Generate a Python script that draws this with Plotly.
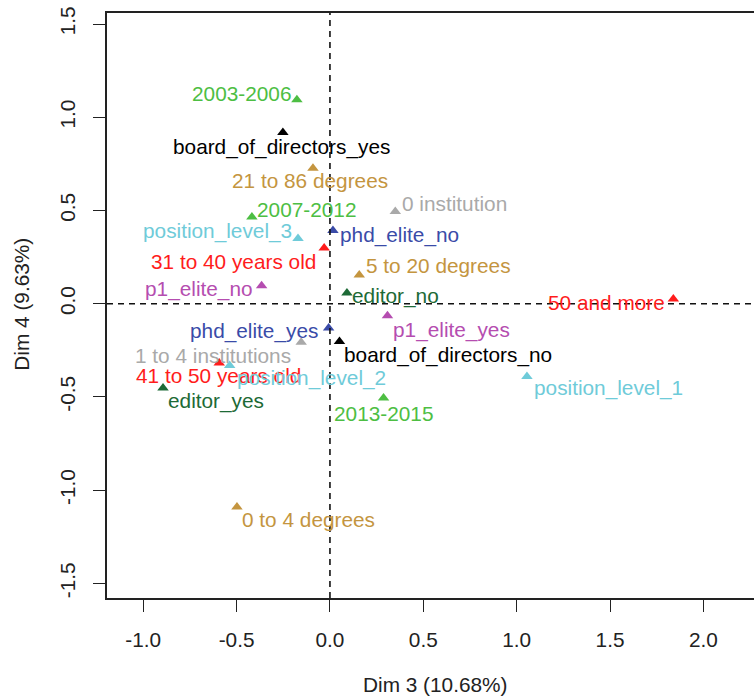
import plotly.graph_objects as go

# ---- data ----
categories = [
    "2003-2006", "board_of_directors_yes", "21 to 86 degrees", "2007-2012",
    "position_level_3", "phd_elite_no", "31 to 40 years old", "5 to 20 degrees",
    "p1_elite_no", "editor_no", "0 institution", "50 and more",
    "phd_elite_yes", "1 to 4 institutions", "board_of_directors_no",
    "41 to 50 years old", "position_level_2", "editor_yes", "2013-2015",
    "0 to 4 degrees", "p1_elite_yes", "position_level_1",
]
dim3 = [-0.177, -0.252, -0.091, -0.418, -0.171, 0.016, -0.031, 0.157,
        -0.366, 0.091, 0.350, 1.839, -0.007, -0.154, 0.051, -0.593,
        -0.537, -0.894, 0.287, -0.498, 0.308, 1.055]
dim4 = [1.094, 0.918, 0.727, 0.465, 0.350, 0.393, 0.299, 0.154,
        0.097, 0.057, 0.495, 0.025, -0.130, -0.207, -0.202, -0.318,
        -0.331, -0.452, -0.506, -1.090, -0.064, -0.390]
variables = [
    "year", "board", "degrees", "year", "position", "phd", "age", "degrees",
    "p1", "editor", "inst", "age", "phd", "inst", "board", "age",
    "position", "editor", "year", "degrees", "p1", "position",
]
x_ticks = [-1.0, -0.5, 0.0, 0.5, 1.0, 1.5, 2.0]
y_ticks = [-1.5, -1.0, -0.5, 0.0, 0.5, 1.0, 1.5]
x_title = "Dim 3 (10.68%)"
y_title = "Dim 4 (9.63%)"

# ---- styles ----
colors = {
    "year": "#4DBE43",
    "board": "#000000",
    "degrees": "#C4953F",
    "position": "#6FCBD9",
    "phd": "#3A4BA8",
    "age": "#FF1C1C",
    "p1": "#B54DB0",
    "editor": "#1D6A36",
    "inst": "#A9A9A9",
}
# label placement: (xanchor, dx px, dy px down)
placement = {
    "2003-2006": ("right", -4, -6.7),
    "board_of_directors_yes": ("center", -1.5, 14),
    "21 to 86 degrees": ("center", -2.7, 12.4),
    "2007-2012": ("left", 3.3, -8),
    "position_level_3": ("right", -4.4, -7),
    "phd_elite_no": ("left", 4.6, 4.3),
    "31 to 40 years old": ("right", -5.7, 13.4),
    "5 to 20 degrees": ("left", 4.3, -10),
    "p1_elite_no": ("right", -6.7, 3.3),
    "editor_no": ("left", 3.3, 2.7),
    "0 institution": ("left", 4.3, -7.7),
    "50 and more": ("right", -6.6, 3.4),
    "phd_elite_yes": ("right", -8.3, 3.4),
    "1 to 4 institutions": ("right", -7.7, 13.3),
    "board_of_directors_no": ("left", 2.4, 13.3),
    "41 to 50 years old": ("center", -1, 12.7),
    "position_level_2": ("left", 5, 12.6),
    "editor_yes": ("left", 3, 13.4),
    "2013-2015": ("center", 0, 15),
    "0 to 4 degrees": ("left", 3.3, 12.7),
    "p1_elite_yes": ("left", 3.4, 14.7),
    "position_level_1": ("left", 5, 11.6),
}

FONT = "Liberation Sans, Arial, sans-serif"
FS = 20.8

fig = go.Figure()
fig.add_trace(go.Scatter(
    x=dim3, y=dim4, mode="markers",
    marker=dict(symbol="triangle-up", size=10,
                color=[colors[v] for v in variables], line=dict(width=0)),
    hoverinfo="text", text=categories, showlegend=False,
))

for name, xv, yv, var in zip(categories, dim3, dim4, variables):
    xa, dx, dy = placement[name]
    fig.add_annotation(
        x=xv, y=yv, xref="x", yref="y", text=name, showarrow=False,
        xanchor=xa, yanchor="middle", xshift=dx, yshift=-dy,
        font=dict(family=FONT, size=FS, color=colors[var]),
    )

fig.add_hline(y=0, line=dict(color="#111", width=1.6, dash="6px,5px"))
fig.add_vline(x=0, line=dict(color="#111", width=1.6, dash="6px,5px"))

axis_common = dict(
    showgrid=False, zeroline=False, showline=True, linecolor="#222",
    linewidth=1.5, ticks="outside", ticklen=12, tickwidth=1.3,
    tickcolor="#222", tickfont=dict(family=FONT, size=FS, color="#222"),
)
fig.update_xaxes(range=[-1.194, 2.271], tickvals=x_ticks,
                 ticktext=[f"{v:.1f}" for v in x_ticks], mirror=True,
                 ticklabelstandoff=10, **axis_common)
fig.update_yaxes(range=[-1.578, 1.559], tickvals=y_ticks,
                 ticktext=[f"{v:.1f}" for v in y_ticks], mirror=False,
                 tickangle=-90, ticklabelstandoff=10, **axis_common)

fig.add_annotation(text=x_title, xref="paper", yref="paper",
                   x=(435 - 107) / 647, y=-(685 - 598.3) / 585,
                   xanchor="center", yanchor="middle", showarrow=False,
                   font=dict(family=FONT, size=FS, color="#222"))
fig.add_annotation(text=y_title, xref="paper", yref="paper",
                   x=(22 - 107) / 647, y=(598.3 - 305) / 585,
                   xanchor="center", yanchor="middle", showarrow=False,
                   textangle=-90,
                   font=dict(family=FONT, size=FS, color="#222"))

fig.update_layout(
    width=754, height=696,
    margin=dict(l=107, r=0, t=13, b=98),
    plot_bgcolor="white", paper_bgcolor="white",
)

fig.write_html("out.html")
